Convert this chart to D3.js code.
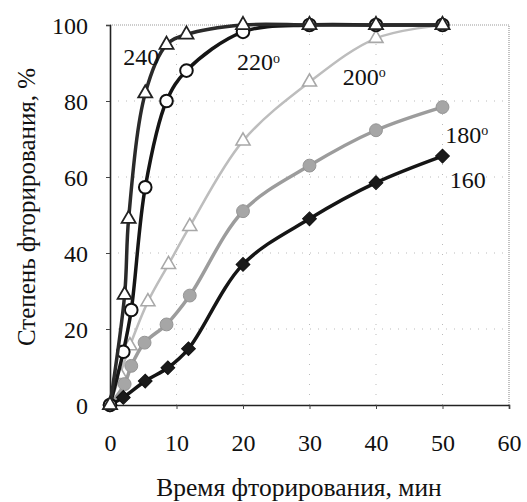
<!DOCTYPE html>
<html>
<head>
<meta charset="utf-8">
<script src="https://cdn.jsdelivr.net/npm/d3@7"></script>
<style>
  body { margin: 0; background: #fff; }
</style>
</head>
<body>
<svg id="chart" width="527" height="502"></svg>
<script>
// время фторирования (мин) и степень фторирования (%) по температурам
const t160 = [0, 2, 5.3, 8.7, 11.8, 20, 30, 40, 50];
const v160 = [0, 2, 6.3, 9.8, 14.8, 37, 49, 58.5, 65.5];

const t180 = [0, 2.2, 3.2, 5.2, 8.5, 12, 20, 30, 40, 50];
const v180 = [0, 5.5, 10.3, 16.4, 21.2, 28.8, 51, 63, 72.3, 78.4];

const t200 = [0, 1.5, 3, 5.7, 8.8, 12, 20, 30, 40, 50];
const v200 = [0, 8, 15.6, 27.2, 37, 47, 69.5, 85, 96.5, 100];

const t220 = [0, 2, 3.2, 5.3, 8.5, 11.5, 20, 30, 40, 50];
const v220 = [0, 14, 25, 57.3, 80, 88, 98.2, 100, 100, 100];

const t240 = [0, 2.2, 2.8, 5.3, 8.5, 11.5, 20, 30, 40, 50];
const v240 = [0, 29, 49, 82, 94.8, 97.5, 100, 100, 100, 100];

const xTicks = [0, 10, 20, 30, 40, 50, 60];
const yTicks = [0, 20, 40, 60, 80, 100];

// подписи кривых: текст, позиция в координатах данных
const labelText = ['240', '220', '200', '180', '160'];
const labelDeg = [false, true, true, true, false];
const labelX = [2.0, 19.1, 35, 50.4, 51.1];
const labelY = [89.4, 88.1, 84.2, 68.9, 57];

const FONT = '"Liberation Serif", "Times New Roman", serif';

const svg = d3.select('#chart');
const m = { left: 110, right: 18, top: 25, bottom: 97 };
const W = 527 - m.left - m.right;
const H = 502 - m.top - m.bottom;

const x = d3.scaleLinear().domain([0, 60]).range([m.left, m.left + W]);
const y = d3.scaleLinear().domain([0, 100]).range([m.top + H, m.top]);

// сетка — редкие серые точки
const grid = svg.append('g');
grid.selectAll('line.h').data(yTicks.slice(1, -1)).join('line')
  .attr('x1', x(0)).attr('x2', x(60)).attr('y1', (d) => y(d)).attr('y2', (d) => y(d))
  .attr('stroke', '#bbb').attr('stroke-width', 1).attr('stroke-dasharray', '1,7');
grid.selectAll('line.v').data(xTicks.slice(1, -1)).join('line')
  .attr('y1', y(0)).attr('y2', y(100)).attr('x1', (d) => x(d)).attr('x2', (d) => x(d))
  .attr('stroke', '#bbb').attr('stroke-width', 1).attr('stroke-dasharray', '1,9');

// рамка справа и сверху
svg.append('path')
  .attr('d', `M${x(0)},${y(100)}H${x(60)}V${y(0)}`)
  .attr('fill', 'none').attr('stroke', '#999').attr('stroke-width', 1.2)
  .attr('stroke-dasharray', '1,1');

// оси
const xAxis = svg.append('g').attr('transform', `translate(0,${y(0)})`)
  .call(d3.axisBottom(x).tickValues(xTicks).tickSize(4).tickPadding(25));
const yAxis = svg.append('g').attr('transform', `translate(${x(0)},0)`)
  .call(d3.axisLeft(y).tickValues(yTicks).tickSize(4).tickPadding(18));
for (const a of [xAxis, yAxis]) {
  a.attr('font-family', FONT).attr('font-size', 24);
  a.select('.domain').attr('stroke', '#222').attr('stroke-width', 1.6);
  a.selectAll('.tick line').attr('stroke', '#444');
  a.selectAll('.tick text').attr('fill', '#111');
}
yAxis.selectAll('.tick text').attr('dy', '0.36em');

svg.append('text')
  .attr('x', 299).attr('y', 496).attr('text-anchor', 'middle')
  .attr('font-family', FONT).attr('font-size', 25.5).attr('fill', '#111')
  .text('Время фторирования, мин');
svg.append('text')
  .attr('transform', 'translate(35,207) rotate(-90)').attr('text-anchor', 'middle')
  .attr('font-family', FONT).attr('font-size', 25).attr('fill', '#111')
  .text('Степень фторирования, %');

// кривые
const line = d3.line().x((d) => x(d[0])).y((d) => y(d[1])).curve(d3.curveCatmullRom.alpha(0.5));
const zip = (ts, vs) => ts.map((t, i) => [t, vs[i]]);

const series = [
  { pts: zip(t200, v200), stroke: '#bdbdbd', w: 2.5, sym: d3.symbolTriangle, size: 85, fill: '#fff', mk: '#a8a8a8', mw: 1.6 },
  { pts: zip(t180, v180), stroke: '#9c9c9c', w: 3.5, sym: d3.symbolCircle, size: 130, fill: '#a6a6a6', mk: '#959595', mw: 1 },
  { pts: zip(t160, v160), stroke: '#151515', w: 3.5, sym: d3.symbolSquare, size: 95, fill: '#1a1a1a', mk: '#111', mw: 1, rot: 45 },
  { pts: zip(t220, v220), stroke: '#151515', w: 3.5, sym: d3.symbolCircle, size: 125, fill: '#fff', mk: '#111', mw: 2 },
  { pts: zip(t240, v240), stroke: '#2a2a2a', w: 3.5, sym: d3.symbolTriangle, size: 85, fill: '#fff', mk: '#222', mw: 1.8 },
];

for (const s of series) {
  const g = svg.append('g');
  g.append('path').attr('d', line(s.pts))
    .attr('fill', 'none').attr('stroke', s.stroke).attr('stroke-width', s.w)
    .attr('stroke-linejoin', 'round');
  g.selectAll('path.mk').data(s.pts).join('path')
    .attr('class', 'mk')
    .attr('d', d3.symbol().type(s.sym).size(s.size))
    .attr('transform', (d) => `translate(${x(d[0])},${y(d[1])}) rotate(${s.rot || 0})`)
    .attr('fill', s.fill).attr('stroke', s.mk).attr('stroke-width', s.mw);
}

// подписи температур
const lab = svg.append('g').selectAll('text').data(labelText).join('text')
  .attr('x', (d, i) => x(labelX[i])).attr('y', (d, i) => y(labelY[i]))
  .attr('font-family', FONT).attr('font-size', 24).attr('fill', '#111');
lab.append('tspan').text((d) => d);
lab.filter((d, i) => labelDeg[i]).append('tspan')
  .attr('dy', '-0.55em').attr('font-size', 14).text('o');
</script>
</body>
</html>
